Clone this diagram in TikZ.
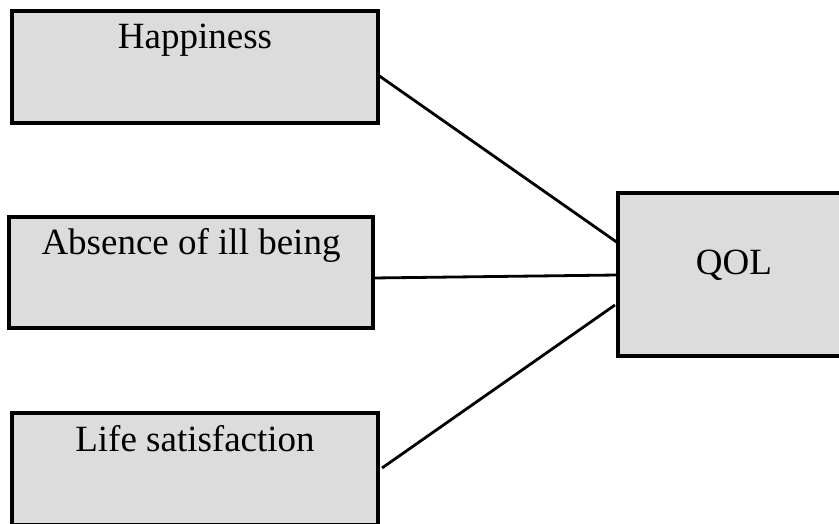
\documentclass[tikz,border=0pt]{standalone}
\usepackage{fontspec}
\setmainfont{Liberation Serif}
\usetikzlibrary{calc}
\definecolor{boxgray}{HTML}{DCDCDC}
\begin{document}
\begin{tikzpicture}[x=1pt,y=-1pt,
  box/.style={draw, line width=3.4pt, fill=boxgray, inner sep=0pt, outer sep=0pt},
  lbl/.style={anchor=base, inner sep=0pt, font=\fontsize{37}{44}\selectfont},
  link/.style={line width=2.8pt}]
  \clip (0,0) rectangle (839,523);
  \fill[white] (0,0) rectangle (839,523);

  % factor boxes
  \node[box, minimum width=366pt, minimum height=112pt] (hap) at (195,67) {};
  \node[box, minimum width=364pt, minimum height=111pt] (abs) at (191,272.5) {};
  \node[box, minimum width=366pt, minimum height=112pt] (lif) at (195,469) {};
  \node[box, minimum width=232pt, minimum height=163pt] (qol) at (734,274.5) {};

  % labels
  \node[lbl] (haptxt) at (195,48) {Happiness};
  \node[lbl] (abstxt) at (191,254) {Absence of ill being};
  \node[lbl] (liftxt) at (195,451) {Life satisfaction};
  \node[lbl] (qoltxt) at (734,274) {QOL};

  % connectors
  \draw[link] ($(hap.east)+(0,8)$) -- ($(qol.west)+(0,-31.5)$);
  \draw[link] ($(abs.east)+(0,5.5)$) -- ($(qol.west)+(-1,0.5)$);
  \draw[link] ($(lif.east)+(4,-1)$) -- ($(qol.west)+(-3,30.5)$);
\end{tikzpicture}
\end{document}
